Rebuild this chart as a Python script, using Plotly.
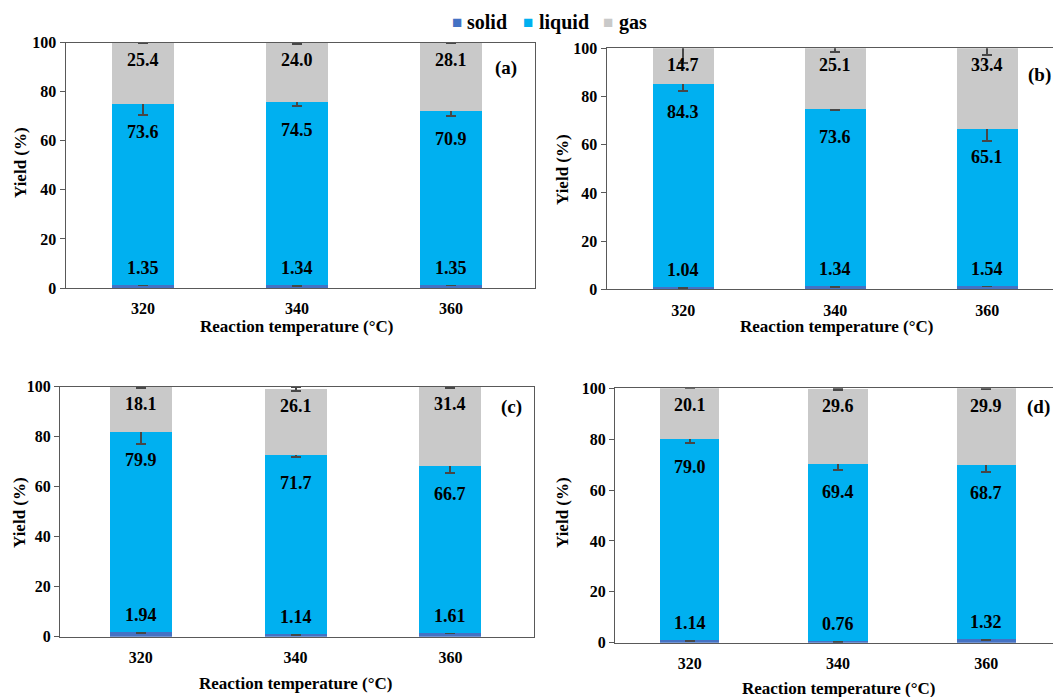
import plotly.graph_objects as go

# ---------------- data ----------------
temps = ["320", "340", "360"]
series_names = ["solid", "liquid", "gas"]

solid_a = [1.35, 1.34, 1.35]
liquid_a = [73.6, 74.5, 70.9]
gas_a = [25.4, 24.0, 28.1]
solid_err_a = [0.3, 0.4, 0.3]
liquid_err_a = [4.3, 1.6, 2.0]
gas_err_a = [0.4, 0.4, 0.3]

solid_b = [1.04, 1.34, 1.54]
liquid_b = [84.3, 73.6, 65.1]
gas_b = [14.7, 25.1, 33.4]
solid_err_b = [0.3, 0.4, 0.3]
liquid_err_b = [2.9, 0.5, 5.0]
gas_err_b = [6.2, 1.4, 2.8]

solid_c = [1.94, 1.14, 1.61]
liquid_c = [79.9, 71.7, 66.7]
gas_c = [18.1, 26.1, 31.4]
solid_err_c = [0.3, 0.3, 0.3]
liquid_err_c = [4.8, 0.9, 3.0]
gas_err_c = [0.3, 0.8, 0.3]

solid_d = [1.14, 0.76, 1.32]
liquid_d = [79.0, 69.4, 68.7]
gas_d = [20.1, 29.6, 29.9]
solid_err_d = [0.3, 0.3, 0.3]
liquid_err_d = [1.45, 2.3, 2.9]
gas_err_d = [0.3, 0.3, 0.3]

panel_labels = ["(a)", "(b)", "(c)", "(d)"]
x_title = "Reaction temperature (°C)"
y_title = "Yield (%)"

# ---------------- styling ----------------
W, H = 1061, 697
OFF = 8  # page body margin: figure is drawn 8px right/down in the window
colors = {"solid": "#4472C4", "liquid": "#00B0F0", "gas": "#C9C9C9"}
line_col = "#595959"
err_col = "#474747"
FONT = "Liberation Serif, Times New Roman, serif"


def fx(sx):
    return (sx - OFF) / W


def fy(sy):
    return 1 - (sy - OFF) / H


panels = [
    dict(solid=solid_a, liquid=liquid_a, gas=gas_a,
         es=solid_err_a, el=liquid_err_a, eg=gas_err_a,
         px=(65.7, 535), py=(42.7, 288), xr=(-0.502, 2.545), mirror_y=True,
         lab=(506, 68, "center"), xt=(296, 326), yt=(20, 163)),
    dict(solid=solid_b, liquid=liquid_b, gas=gas_b,
         es=solid_err_b, el=liquid_err_b, eg=gas_err_b,
         px=(606.7, 1069), py=(48.3, 289.3), xr=(-0.504, 2.537), mirror_y=False,
         lab=(1053, 75, "right"), xt=(836, 326), yt=(562, 170)),
    dict(solid=solid_c, liquid=liquid_c, gas=gas_c,
         es=solid_err_c, el=liquid_err_c, eg=gas_err_c,
         px=(60, 534), py=(386.7, 636.7), xr=(-0.522, 2.54), mirror_y=True,
         lab=(511, 407, "center"), xt=(295, 683), yt=(20, 513)),
    dict(solid=solid_d, liquid=liquid_d, gas=gas_d,
         es=solid_err_d, el=liquid_err_d, eg=gas_err_d,
         px=(615, 1069), py=(388.3, 642.7), xr=(-0.504, 2.558), mirror_y=False,
         lab=(1052, 407, "right"), xt=(838, 688), yt=(563, 513)),
]

fig = go.Figure()
annotations = []
layout_axes = {}

for i, p in enumerate(panels):
    n = "" if i == 0 else str(i + 1)
    xa, ya = "x" + n, "y" + n
    for name, key, ekey in (("solid", "solid", "es"), ("liquid", "liquid", "el"), ("gas", "gas", "eg")):
        fig.add_trace(go.Bar(
            x=temps, y=p[key], name=name, xaxis=xa, yaxis=ya,
            marker=dict(color=colors[name], line=dict(width=0)),
            width=0.4, showlegend=False,
            error_y=dict(type="data", array=p[ekey], visible=True,
                         color=err_col, thickness=2, width=5),
            hoverinfo="skip",
        ))
    # value labels (x given as category index)
    for j, t in enumerate(temps):
        s = p["solid"][j]
        l = p["liquid"][j]
        g = p["gas"][j]
        liq_top = s + l
        tot = min(s + l + g, 100)
        common = dict(xref=xa, yref=ya, x=j, showarrow=False,
                      font=dict(family=FONT, size=18, color="black", weight="bold"),
                      xanchor="center", yanchor="middle")
        annotations.append(dict(common, y=tot, yshift=-17, text=f"{g:.1f}"))
        annotations.append(dict(common, y=liq_top, yshift=-28, text=f"{l:.1f}"))
        annotations.append(dict(common, y=s, yshift=17, text=f"{s:.2f}"))

    x0, x1 = p["px"]
    ytop, ybot = p["py"]
    xkey = "xaxis" + n
    ykey = "yaxis" + n
    layout_axes[xkey] = dict(
        domain=[fx(x0), min(fx(x1), 1.0)], anchor=ya, type="category",
        range=list(p["xr"]), showline=True, mirror=True, linecolor=line_col,
        linewidth=1.3, ticks="outside", ticklen=6, tickcolor="rgba(0,0,0,0)",
        showgrid=False, zeroline=False,
        tickfont=dict(family=FONT, size=16, color="black", weight="bold"),
    )
    layout_axes[ykey] = dict(
        domain=[fy(ybot), fy(ytop)], anchor=xa, range=[0, 100],
        dtick=20, showline=True, mirror=p["mirror_y"], linecolor=line_col,
        linewidth=1.3, ticks="outside", ticklen=5, tickcolor=line_col,
        showgrid=False, zeroline=False,
        tickfont=dict(family=FONT, size=16, color="black", weight="bold"),
    )
    # panel label
    annotations.append(dict(xref="paper", yref="paper", x=fx(p["lab"][0]),
                            y=fy(p["lab"][1]), text=panel_labels[i],
                            showarrow=False, xanchor=p["lab"][2], yanchor="middle",
                            font=dict(family=FONT, size=19, color="black", weight="bold")))
    # axis titles
    annotations.append(dict(xref="paper", yref="paper", x=fx(p["xt"][0]),
                            y=fy(p["xt"][1]), text=x_title,
                            showarrow=False, xanchor="center", yanchor="middle",
                            font=dict(family=FONT, size=17, color="black", weight="bold")))
    annotations.append(dict(xref="paper", yref="paper", x=fx(p["yt"][0]),
                            y=fy(p["yt"][1]), text=y_title, textangle=-90,
                            showarrow=False, xanchor="center", yanchor="middle",
                            font=dict(family=FONT, size=17, color="black", weight="bold")))

# ---- legend (compact, like the original) ----
legend_square_x = [456.5, 527.5, 607.5]
legend_text_x = [465, 537, 617]
legend_y = 22
for k, name in enumerate(series_names):
    annotations.append(dict(xref="paper", yref="paper", x=fx(legend_square_x[k]),
                            y=fy(legend_y), text="■", showarrow=False,
                            xanchor="center", yanchor="middle",
                            font=dict(family=FONT, size=17, color=colors[name])))
    annotations.append(dict(xref="paper", yref="paper", x=fx(legend_text_x[k]),
                            y=fy(legend_y), text=name, showarrow=False,
                            xanchor="left", yanchor="middle",
                            font=dict(family=FONT, size=20, color="black", weight="bold")))

fig.update_layout(
    width=W, height=H, margin=dict(l=0, r=0, t=0, b=0, autoexpand=False),
    barmode="stack", bargap=0.6, showlegend=False,
    plot_bgcolor="white", paper_bgcolor="white",
    annotations=annotations,
    **layout_axes,
)

fig.write_html("out.html")
